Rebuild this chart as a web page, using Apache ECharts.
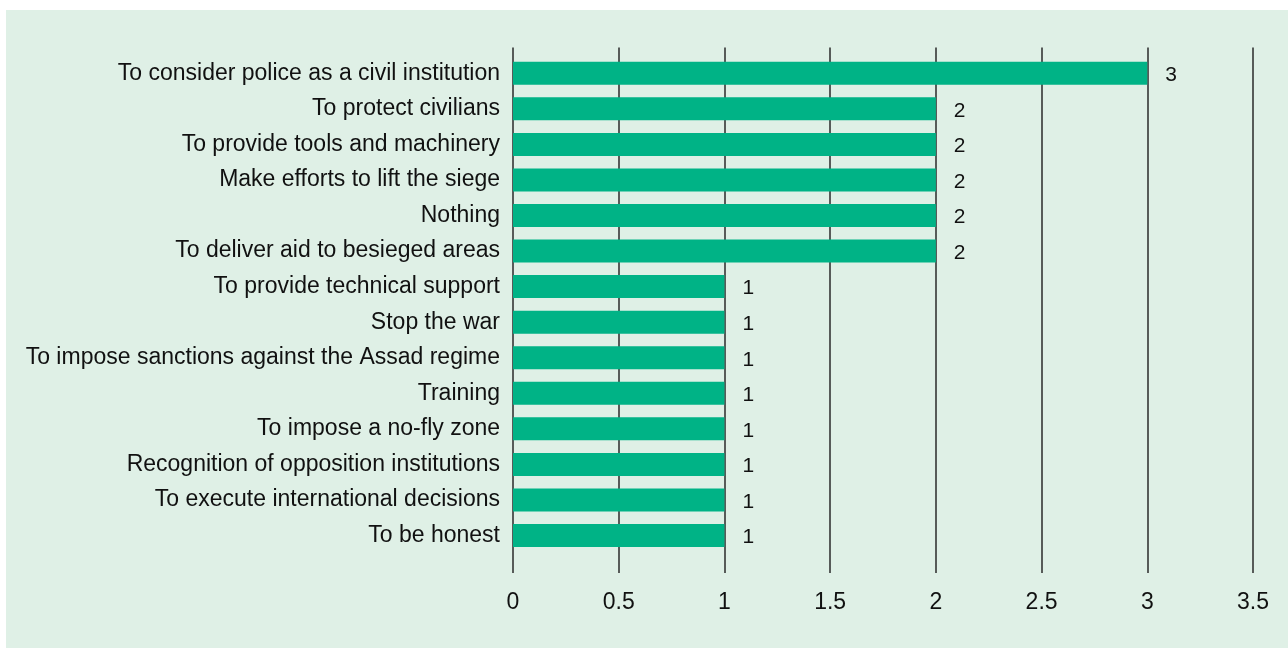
<!DOCTYPE html>
<html>
<head>
<meta charset="utf-8">
<script src="https://cdn.jsdelivr.net/npm/echarts@6/dist/echarts.min.js"></script>
<style>
  html, body { margin: 0; padding: 0; background: #ffffff; }
  body { width: 1288px; height: 648px; position: relative; overflow: hidden; }
  #panel {
    position: absolute; left: 6px; top: 10px;
    width: 1282px; height: 638px;
    background: #dff0e6;
  }
</style>
</head>
<body>
<div id="panel"></div>
<script>
// Responses, listed top to bottom
const categories = [
  'To consider police as a civil institution',
  'To protect civilians',
  'To provide tools and machinery',
  'Make efforts to lift the siege',
  'Nothing',
  'To deliver aid to besieged areas',
  'To provide technical support',
  'Stop the war',
  'To impose sanctions against the Assad regime',
  'Training',
  'To impose a no-fly zone',
  'Recognition of opposition institutions',
  'To execute international decisions',
  'To be honest'
];
const counts = [3, 2, 2, 2, 2, 2, 1, 1, 1, 1, 1, 1, 1, 1];

const axisMin = 0;
const axisMax = 3.5;
const axisStep = 0.5;

const font = '"Liberation Sans", Arial, Helvetica, sans-serif';
const barColor = '#00b386';
const inkColor = '#111111';

const chart = echarts.init(document.getElementById('panel'), null, { renderer: 'canvas' });

chart.setOption({
  backgroundColor: 'transparent',
  animation: false,
  grid: [
    // bars
    { left: 507, right: 35, top: 45.5, bottom: 94.7, containLabel: false },
    // vertical rules and value scale, slightly taller than the bars
    { left: 507, right: 35, top: 37.5, bottom: 75, containLabel: false }
  ],
  xAxis: [
    {
      gridIndex: 0, type: 'value', min: axisMin, max: axisMax, interval: axisStep,
      axisLine: { show: false }, axisTick: { show: false },
      axisLabel: { show: false }, splitLine: { show: false }
    },
    {
      gridIndex: 1, type: 'value', min: axisMin, max: axisMax, interval: axisStep,
      axisLine: { show: false }, axisTick: { show: false },
      axisLabel: {
        show: true, color: inkColor, fontFamily: font, fontSize: 23, margin: 18,
        formatter: v => String(v)
      },
      splitLine: { show: true, lineStyle: { color: '#2a2a2a', width: 1.5 } }
    }
  ],
  yAxis: [
    {
      gridIndex: 0, type: 'category', data: categories, inverse: true,
      axisLine: { show: false }, axisTick: { show: false },
      axisLabel: { color: inkColor, fontFamily: font, fontSize: 23, margin: 13 }
    },
    {
      gridIndex: 1, type: 'value', min: 0, max: 1,
      axisLine: { show: false }, axisTick: { show: false },
      axisLabel: { show: false }, splitLine: { show: false }
    }
  ],
  series: [
    {
      type: 'bar',
      xAxisIndex: 0, yAxisIndex: 0,
      data: counts,
      barWidth: 23,
      itemStyle: { color: barColor },
      label: {
        show: true, position: 'right', distance: 18, offset: [0, 2],
        color: inkColor, fontFamily: font, fontSize: 21
      },
      z: 3
    },
    {
      type: 'scatter',
      xAxisIndex: 1, yAxisIndex: 1,
      data: [],
      silent: true
    }
  ]
});
</script>
</body>
</html>
